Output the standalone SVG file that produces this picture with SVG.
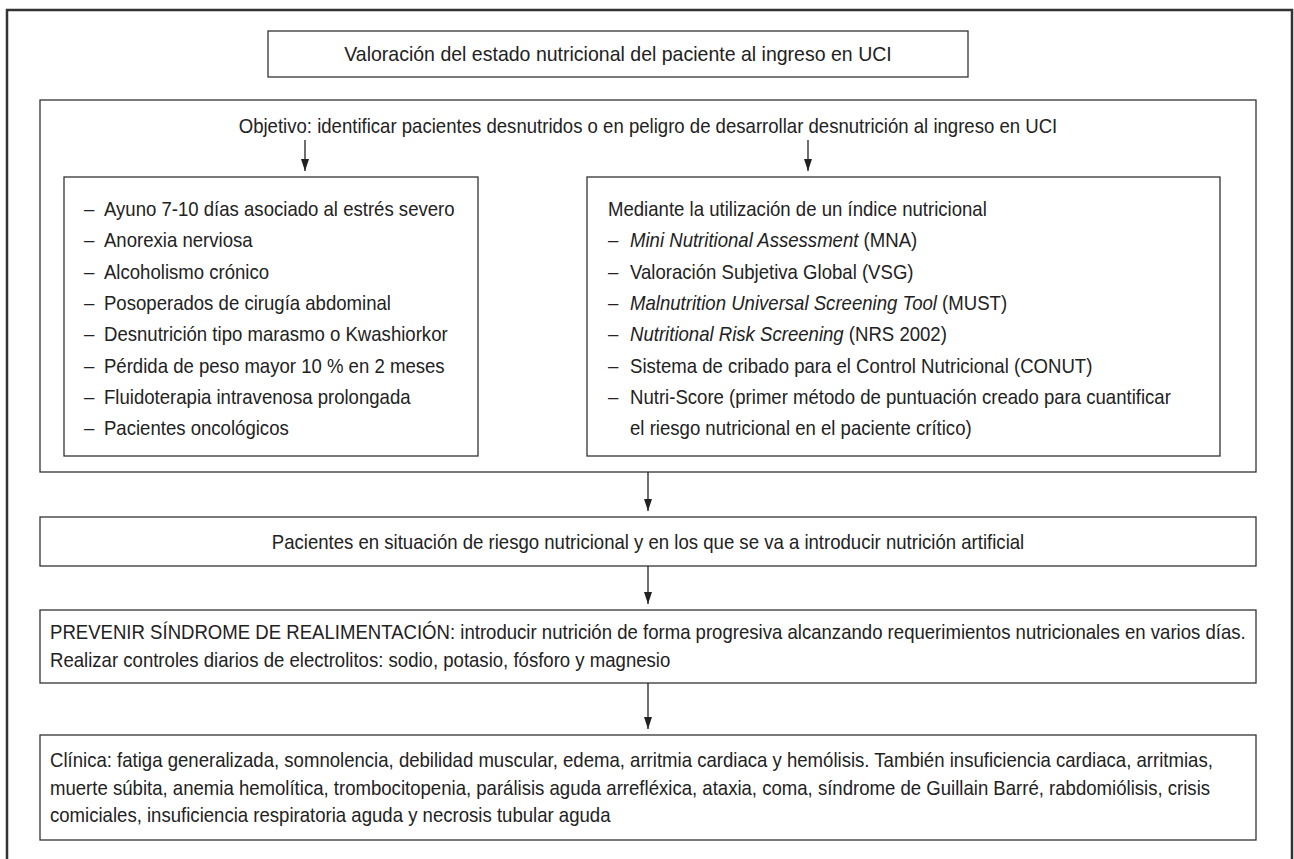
<svg xmlns="http://www.w3.org/2000/svg" width="1294" height="859" viewBox="0 0 1294 859">
<defs>
<marker id="ah" markerWidth="12" markerHeight="8" refX="12" refY="4" orient="auto" markerUnits="userSpaceOnUse" viewBox="0 0 12 8">
<path d="M0,0 L12,4 L0,8 Z" fill="#222"/>
</marker>
<style>
.box{fill:#fff;stroke:#333;stroke-width:1.3}
.t{font-family:"Liberation Sans",Arial,sans-serif;font-size:21px;fill:#222}
.c{text-anchor:middle}
.i{font-style:italic}
.con line{stroke:#222;stroke-width:1.3;marker-end:url(#ah)}
</style>
</defs>
<rect x="0" y="0" width="1294" height="859" fill="#fff"/>
<path d="M7,875 V10 H1292 V875" fill="none" stroke="#333" stroke-width="2.5"/>

<g id="n_valoracion">
<rect class="box" x="268" y="31" width="700" height="46"/>
<g transform="scale(0.93,1)"><text class="t c" x="664.5" y="61">Valoración del estado nutricional del paciente al ingreso en UCI</text></g>
</g>

<g id="n_objetivo">
<rect class="box" x="40" y="100" width="1216" height="372"/>
<g transform="scale(0.885,1)"><text class="t c" x="732.2" y="133">Objetivo: identificar pacientes desnutridos o en peligro de desarrollar desnutrición al ingreso en UCI</text></g>
</g>

<g id="n_causas">
<rect class="box" x="64" y="177" width="414" height="279"/>
<g class="t" transform="scale(0.885,1)">
<text x="94.9" y="216">–</text><text x="117.5" y="216">Ayuno 7-10 días asociado al estrés severo</text>
<text x="94.9" y="247">–</text><text x="117.5" y="247">Anorexia nerviosa</text>
<text x="94.9" y="279">–</text><text x="117.5" y="279">Alcoholismo crónico</text>
<text x="94.9" y="310">–</text><text x="117.5" y="310">Posoperados de cirugía abdominal</text>
<text x="94.9" y="341">–</text><text x="117.5" y="341">Desnutrición tipo marasmo o Kwashiorkor</text>
<text x="94.9" y="373">–</text><text x="117.5" y="373">Pérdida de peso mayor 10 % en 2 meses</text>
<text x="94.9" y="404">–</text><text x="117.5" y="404">Fluidoterapia intravenosa prolongada</text>
<text x="94.9" y="435">–</text><text x="117.5" y="435">Pacientes oncológicos</text>
</g>
</g>

<g id="n_indices">
<rect class="box" x="587" y="177" width="633" height="279"/>
<g class="t" transform="scale(0.885,1)">
<text x="687" y="216">Mediante la utilización de un índice nutricional</text>
<text x="687" y="247">–</text><text x="711.9" y="247"><tspan class="i">Mini Nutritional Assessment</tspan> (MNA)</text>
<text x="687" y="279">–</text><text x="711.9" y="279">Valoración Subjetiva Global (VSG)</text>
<text x="687" y="310">–</text><text x="711.9" y="310"><tspan class="i">Malnutrition Universal Screening Tool</tspan> (MUST)</text>
<text x="687" y="341">–</text><text x="711.9" y="341"><tspan class="i">Nutritional Risk Screening</tspan> (NRS 2002)</text>
<text x="687" y="373">–</text><text x="711.9" y="373">Sistema de cribado para el Control Nutricional (CONUT)</text>
<text x="687" y="404">–</text><text x="711.9" y="404">Nutri-Score (primer método de puntuación creado para cuantificar</text>
<text x="711.9" y="435">el riesgo nutricional en el paciente crítico)</text>
</g>
</g>

<g id="n_riesgo">
<rect class="box" x="40" y="517" width="1216" height="49"/>
<g transform="scale(0.885,1)"><text class="t c" x="732.2" y="549">Pacientes en situación de riesgo nutricional y en los que se va a introducir nutrición artificial</text></g>
</g>

<g id="n_prevenir">
<rect class="box" x="40" y="610" width="1216" height="73"/>
<g class="t" transform="scale(0.885,1)">
<text x="56.5" y="639">PREVENIR SÍNDROME DE REALIMENTACIÓN: introducir nutrición de forma progresiva alcanzando requerimientos nutricionales en varios días.</text>
<text x="56.5" y="667">Realizar controles diarios de electrolitos: sodio, potasio, fósforo y magnesio</text>
</g>
</g>

<g id="n_clinica">
<rect class="box" x="40" y="735" width="1216" height="105"/>
<g class="t" transform="scale(0.885,1)">
<text x="56.5" y="767">Clínica: fatiga generalizada, somnolencia, debilidad muscular, edema, arritmia cardiaca y hemólisis. También insuficiencia cardiaca, arritmias,</text>
<text x="56.5" y="795">muerte súbita, anemia hemolítica, trombocitopenia, parálisis aguda arrefléxica, ataxia, coma, síndrome de Guillain Barré, rabdomiólisis, crisis</text>
<text x="56.5" y="822">comiciales, insuficiencia respiratoria aguda y necrosis tubular aguda</text>
</g>
</g>

<g id="connectors" class="con">
<line x1="305" y1="140" x2="305" y2="171"/>
<line x1="808" y1="140" x2="808" y2="171"/>
<line x1="648" y1="472" x2="648" y2="511"/>
<line x1="648" y1="566" x2="648" y2="604"/>
<line x1="648" y1="683" x2="648" y2="729"/>
</g>
</svg>
